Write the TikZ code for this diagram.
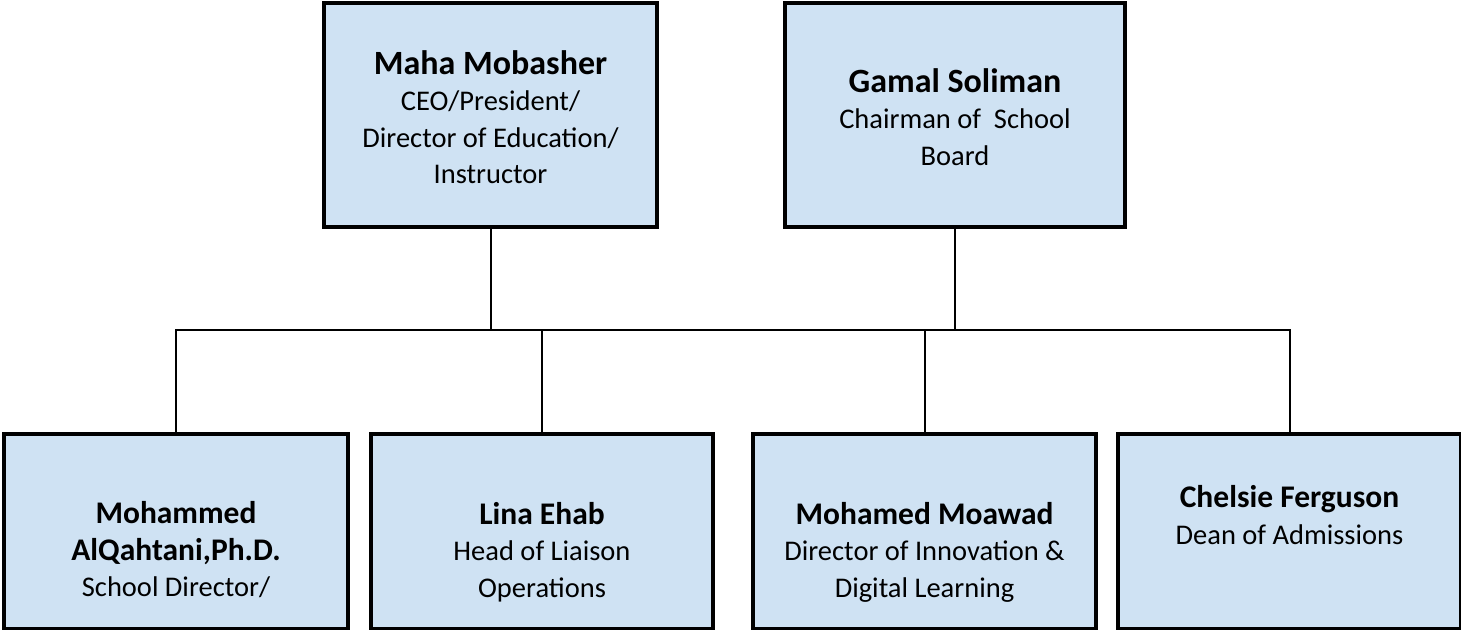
\documentclass[tikz,border=0pt]{standalone}
\usepackage{fontspec}
\setmainfont{Carlito}
\usetikzlibrary{calc}
\definecolor{boxblue}{HTML}{CFE2F3}
\newcommand{\topname}[1]{{\bfseries\fontsize{17}{18.25}\selectfont #1}}
\newcommand{\staffname}[1]{{\bfseries\fontsize{15.75}{18.25}\selectfont #1}}

\begin{document}
\begin{tikzpicture}[
  x=0.5pt, y=-0.5pt, line width=1pt,
  box/.style={draw, line width=2pt, fill=boxblue, minimum height=97.5pt, inner sep=0pt},
  topbox/.style={box, minimum height=112pt},
  txt/.style={align=center, inner sep=0pt, font=\fontsize{14.25}{18.25}\selectfont}]

  \useasboundingbox (0,0) rectangle (1461,630);

  % board
  \node[topbox, minimum width=166.5pt] (maha)  at (490.5,115) {};
  \node[topbox, minimum width=170pt]   (gamal) at (955,115)   {};
  \node[txt] (maha-t) at (490.5,117)
    {\topname{Maha Mobasher}\\CEO/President/\\Director of Education/\\Instructor};
  \node[txt] (gamal-t) at (955,117)
    {\topname{Gamal Soliman}\\Chairman of~ School\\Board};

  % staff
  \node[box, minimum width=172pt]   (alq)     at (176,531.5)    {};
  \node[box, minimum width=171pt]   (lina)    at (542,531.5)    {};
  \node[box, minimum width=171.5pt] (moawad)  at (924.5,531.5)  {};
  \node[box, minimum width=171.5pt] (chelsie) at (1289.5,531.5) {};
  \node[txt] (alq-t) at (176,550)
    {\staffname{Mohammed}\\\staffname{AlQahtani,Ph.D.}\\School Director/};
  \node[txt] (lina-t) at (542,552)
    {\staffname{Lina Ehab}\\Head of Liaison\\Operations};
  \node[txt] (moawad-t) at (924.5,552)
    {\staffname{Mohamed Moawad}\\Director of Innovation \&\\Digital Learning};
  \node[txt] (chelsie-t) at (1289.5,515)
    {\staffname{Chelsie Ferguson}\\Dean of Admissions};

  % lines
  \coordinate (bar) at (0,330);
  \draw (maha.south) -- (maha.south |- bar);
  \draw (gamal.south) -- (gamal.south |- bar);
  \draw (alq.north) -- (alq.north |- bar) -- (chelsie.north |- bar) -- (chelsie.north);
  \draw (lina.north) -- (lina.north |- bar);
  \draw (moawad.north) -- (moawad.north |- bar);
\end{tikzpicture}
\end{document}
